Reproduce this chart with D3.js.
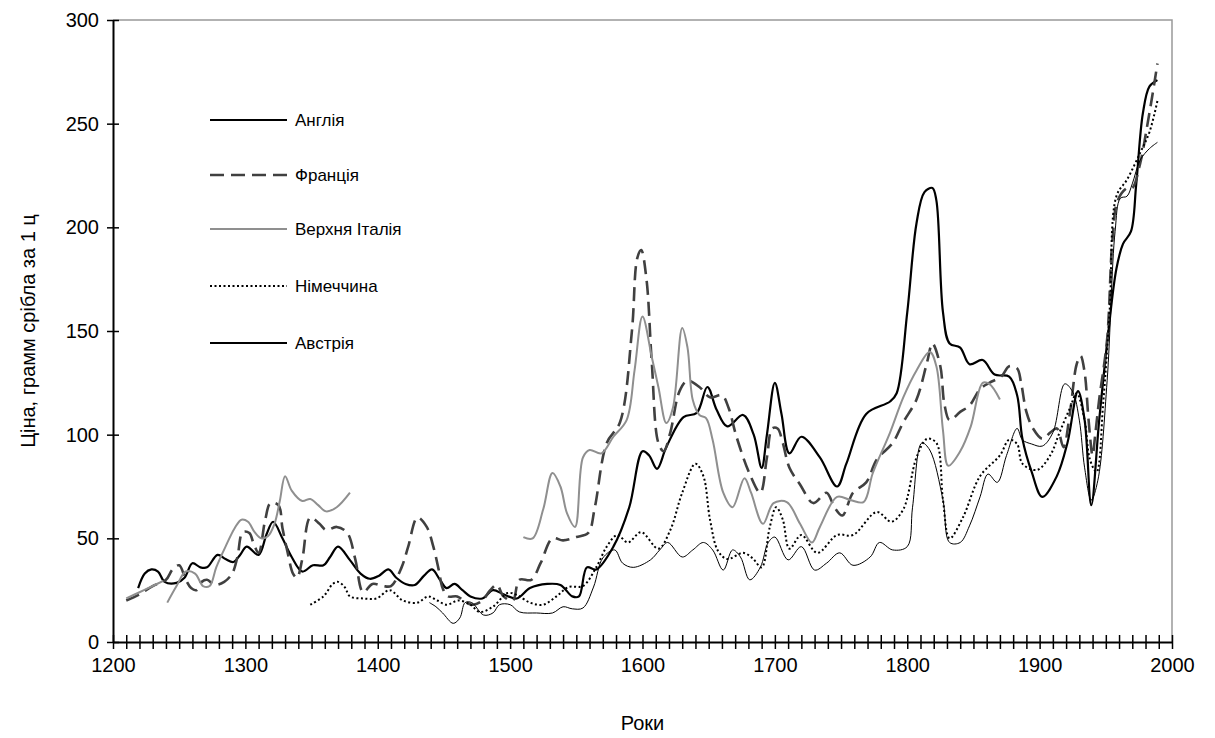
<!DOCTYPE html>
<html>
<head>
<meta charset="utf-8">
<script src="https://cdn.jsdelivr.net/npm/d3@7"></script>
<style>
  body { margin: 0; background: #fff; }
  svg { font-family: "Liberation Sans", Arial, sans-serif; }
</style>
</head>
<body>
<svg width="1215" height="738"></svg>
<script>
// data: [year, price]; null = gap in the series
const england = [[1219,26],[1224,33],[1229,35],[1234,34],[1239,29],[1248,28.5],[1254,31],[1260,38],[1266,36],[1271,36],[1279,42],[1285,40],[1291,38.6],[1296,42],[1301,46],[1310,42],[1316,52],[1321,58],[1328,50],[1335,41],[1343,34],[1351,37],[1359,37],[1364,41],[1370,46],[1379,39.5],[1387,33],[1394,30.5],[1401,32],[1408,35],[1414,31],[1421,28],[1428,27.5],[1435,32],[1441,35],[1447,30],[1452,26],[1458,28],[1464,25],[1470,22],[1479,21],[1487,25],[1495,23],[1505,21],[1515,26],[1528,28],[1538,27.5],[1547,22],[1552,22],[1558,36],[1565,35],[1578,46],[1590,65],[1600,92],[1605,90],[1611,83.5],[1618,94],[1631,108.5],[1641,110.5],[1649,123],[1656,112],[1664,104],[1676,109.5],[1684,100],[1690,84],[1694,100],[1700,125],[1705,110],[1711,91],[1720,99],[1734,89],[1747,75],[1754,86],[1769,110],[1787,116],[1792,120],[1800,159],[1807,202],[1813,217],[1819,219],[1822,213],[1827,159],[1832,144],[1840,142],[1847,134],[1857,136],[1866,129],[1877,128],[1883,119],[1887,98],[1894,82],[1902,70],[1913,80],[1921,96],[1929,121],[1934,107],[1939,66],[1945,107],[1952,150],[1958,180],[1963,192],[1969,198],[1973,221],[1978,255],[1983,268],[1989,271]];

const france = [[1210,20],[1220,23],[1230,27],[1240,30],[1245,35],[1250,37],[1255,30],[1259,26],[1263,25],[1267,29],[1271,30],[1277,27.5],[1284,29],[1290,33],[1294,41],[1298,53],[1303,52.6],[1306,48],[1310,43],[1315,59],[1319,67],[1325,66],[1328,55],[1332,43],[1336,33],[1339,31],[1343,40],[1349,60],[1356,57],[1361,54],[1369,55.5],[1377,52.6],[1383,40],[1389,24],[1396,28],[1404,27],[1410,27],[1418,36],[1423,46],[1430,60],[1437,55.5],[1442,46],[1446,35],[1449,26],[1453,22],[1460,22],[1467,19],[1472,18],[1479,20],[1485,25],[1490,27.5],[1495,22],[1502,20],[1507,30],[1516,30],[1523,38],[1532,50],[1540,49],[1550,50.6],[1559,52.6],[1564,65],[1573,96],[1583,106],[1592,150],[1596,185],[1599,189],[1603,175],[1607,135],[1612,96],[1616,92],[1621,101],[1628,121],[1634,126],[1643,123],[1651,118],[1660,119],[1665,113],[1671,99],[1681,81],[1689,72],[1694,89],[1698,103],[1702,103],[1706,96],[1711,84],[1719,76],[1729,67],[1739,72],[1745,65],[1751,61],[1759,72],[1769,77],[1777,88],[1789,96],[1797,106],[1807,117],[1815,135],[1819,144],[1825,133],[1828,115],[1832,107],[1840,111],[1847,114],[1855,122],[1862,125],[1871,128],[1877,133],[1883,132],[1886,125],[1890,111],[1895,103],[1902,98],[1908,101],[1913,103],[1918,94],[1923,111],[1928,134],[1931,138],[1934,130],[1937,107],[1940,90],[1942,100],[1945,117],[1951,146],[1955,194],[1959,213],[1966,219],[1970,219],[1976,231],[1981,248],[1985,263],[1989,279]];

const italy = [[1210,21],[1220,24],[1230,27],[1238,29.5],[1240,null],[1241,19],[1248,27],[1255,34],[1262,33],[1268,27],[1273,27],[1278,36],[1285,46],[1292,55],[1297,59],[1302,58],[1307,53],[1312,50],[1317,51],[1322,57],[1326,68],[1330,80],[1335,73],[1343,68],[1349,69],[1355,66],[1361,63],[1369,65],[1379,72],[1400,null],[1510,50.6],[1517,50],[1525,64],[1532,81.5],[1538,75],[1543,62],[1549,55.5],[1555,89],[1560,92.6],[1569,91],[1578,99],[1588,107],[1594,131],[1600,157],[1607,137.5],[1612,123],[1618,105.6],[1623,113],[1630,151.5],[1634,142],[1638,116.7],[1643,109.5],[1648,108],[1653,97.4],[1661,72],[1668,65],[1677,79],[1682,72],[1691,57],[1699,67],[1709,67.5],[1719,57],[1728,48],[1734,55.5],[1747,70],[1757,68.5],[1767,67.5],[1774,81.5],[1787,101],[1797,118],[1807,131],[1817,140],[1822,133],[1827,102],[1831,85],[1840,92],[1848,104],[1857,125],[1862,124.5],[1870,117]];

const germany = [[1349,18],[1359,22],[1366,28],[1370,29],[1375,26.5],[1379,22],[1389,21],[1399,21],[1409,25],[1419,20],[1430,19],[1438,22],[1445,20],[1452,18],[1461,20],[1470,18],[1477,14.5],[1487,17],[1498,23.6],[1505,22.7],[1515,19],[1525,18],[1535,22],[1544,26.5],[1555,27],[1565,36],[1573,46],[1581,51.6],[1589,48],[1599,53],[1612,45],[1621,54],[1630,72],[1640,86],[1646,80],[1651,59],[1657,44],[1664,40],[1676,43],[1683,40.5],[1690,36],[1696,55],[1701,65],[1706,59],[1711,45],[1720,51.6],[1732,43],[1747,51.6],[1759,51.6],[1777,62.7],[1788,58],[1797,64],[1807,89],[1815,98],[1822,96],[1827,68.5],[1832,50],[1842,60],[1855,80],[1870,90],[1877,97.5],[1883,95.5],[1887,86],[1898,83],[1908,90],[1915,101],[1923,113],[1928,120],[1934,107],[1938,88],[1943,82],[1948,115],[1953,161],[1958,215],[1966,223],[1976,236],[1983,246],[1989,261]];

const austria = [[1439,19],[1444,17],[1449,14],[1457,9],[1462,11.6],[1466,19],[1471,19],[1480,13],[1487,14],[1492,18],[1500,18],[1507,14.5],[1520,14],[1532,14],[1540,17],[1547,16],[1555,16.4],[1563,26.5],[1570,40.5],[1579,44.4],[1585,38],[1593,36],[1606,39.6],[1613,44.4],[1619,48],[1630,41],[1638,44.4],[1646,48],[1653,44.4],[1661,34.7],[1668,44.4],[1674,41],[1681,30],[1689,36],[1695,48],[1700,50.6],[1710,39.6],[1720,46],[1730,34.7],[1739,38],[1749,43],[1759,37],[1772,41],[1779,48],[1789,44.4],[1800,46],[1804,65],[1811,96],[1817,92.6],[1827,68.5],[1832,48],[1840,48],[1847,56],[1855,70],[1861,81],[1868,77],[1875,90],[1883,103],[1887,97.5],[1894,95.5],[1902,94.5],[1910,101],[1919,124.5],[1925,120.6],[1930,107],[1934,84],[1939,68.5],[1944,78],[1951,126],[1957,198],[1961,214],[1966,215],[1970,221],[1976,232.5],[1983,238],[1989,241]];

const seriesNames = ['Англія', 'Франція', 'Верхня Італія', 'Німеччина', 'Австрія'];
const xTicks = d3.range(1200, 2001, 10);
const yTicks = [0, 50, 100, 150, 200, 250, 300];

const svg = d3.select('svg');
const margin = { left: 113, top: 20, right: 43, bottom: 96 };
const width = +svg.attr('width');
const height = +svg.attr('height');

const xScale = d3.scaleLinear().domain([1200, 2000]).range([margin.left, width - margin.right]);
const yScale = d3.scaleLinear().domain([0, 300]).range([height - margin.bottom, margin.top]);

const styles = [
  { color: '#000', w: 2.2, dash: null },
  { color: '#404040', w: 2.6, dash: '14,7' },
  { color: '#8f8f8f', w: 2, dash: null },
  { color: '#000', w: 2, dash: '2,2.5' },
  { color: '#000', w: 1, dash: null }
];
const allSeries = [england, france, italy, germany, austria];

// plot border (top / right, grey)
svg.append('path')
  .attr('d', `M${xScale(1200)},${yScale(300)}H${xScale(2000)}V${yScale(0)}`)
  .attr('fill', 'none')
  .attr('stroke', '#999')
  .attr('stroke-width', 1.5);

// lines
const line = d3.line()
  .defined(d => d[1] !== null)
  .x(d => xScale(d[0]))
  .y(d => yScale(d[1]))
  .curve(d3.curveCatmullRom.alpha(0.5));

svg.append('g').selectAll('path')
  .data(allSeries)
  .enter().append('path')
    .attr('d', line)
    .attr('fill', 'none')
    .attr('stroke', (d, i) => styles[i].color)
    .attr('stroke-width', (d, i) => styles[i].w)
    .attr('stroke-dasharray', (d, i) => styles[i].dash)
    .attr('stroke-linejoin', 'round');

// x axis
const xAxis = d3.axisBottom(xScale)
  .tickValues(xTicks)
  .tickFormat(d => d % 100 === 0 ? d : '')
  .tickSize(7)
  .tickSizeOuter(0)
  .tickPadding(9);

const xAxisG = svg.append('g')
  .attr('transform', `translate(0, ${yScale(0)})`)
  .call(xAxis);
xAxisG.selectAll('.tick line').attr('y1', -7).attr('stroke-width', 1.5);
xAxisG.select('.domain').attr('stroke-width', 2);
xAxisG.selectAll('text').attr('font-size', 20).attr('fill', '#000').attr('font-family', 'Liberation Sans, Arial, sans-serif');

// y axis
const yAxis = d3.axisLeft(yScale)
  .tickValues(yTicks)
  .tickSize(6)
  .tickSizeOuter(0)
  .tickPadding(8);

const yAxisG = svg.append('g')
  .attr('transform', `translate(${xScale(1200)}, 0)`)
  .call(yAxis);
yAxisG.selectAll('.tick line').attr('x1', 6).attr('stroke-width', 1.5);
yAxisG.select('.domain').attr('stroke-width', 2);
yAxisG.selectAll('text').attr('font-size', 20).attr('fill', '#000').attr('font-family', 'Liberation Sans, Arial, sans-serif');

// axis titles
svg.append('text')
  .attr('x', (xScale(1200) + xScale(2000)) / 2)
  .attr('y', 730)
  .attr('text-anchor', 'middle')
  .attr('font-size', 20)
  .text('Роки');

svg.append('text')
  .attr('transform', `translate(35, ${(yScale(0) + yScale(300)) / 2}) rotate(-90)`)
  .attr('text-anchor', 'middle')
  .attr('font-size', 20)
  .text('Ціна, грамм срібла за 1 ц');

// legend
const legendY = [120, 175, 229, 286, 343];
const legend = svg.append('g').selectAll('g')
  .data(seriesNames)
  .enter().append('g')
    .attr('transform', (d, i) => `translate(210, ${legendY[i]})`);

legend.append('line')
  .attr('x1', 0).attr('x2', 77)
  .attr('stroke', (d, i) => styles[i].color)
  .attr('stroke-width', (d, i) => i === 4 ? 2 : styles[i].w)
  .attr('stroke-dasharray', (d, i) => styles[i].dash);

legend.append('text')
  .attr('x', 85)
  .attr('y', 6)
  .attr('font-size', 17)
  .text(d => d);
</script>
</body>
</html>
